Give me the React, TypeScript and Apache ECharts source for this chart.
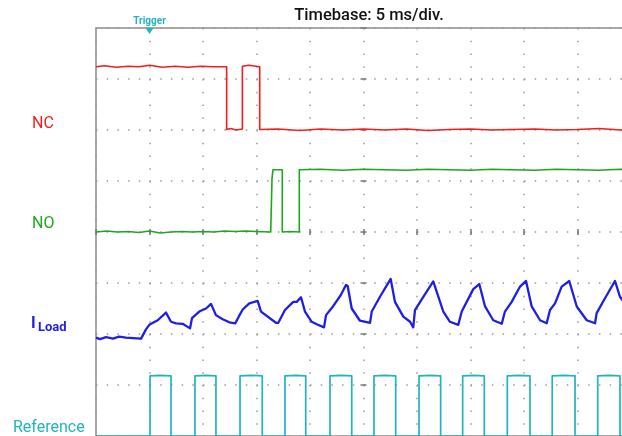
import React, { useEffect, useRef } from "react";
import * as echarts from "echarts";

const TITLE = "Timebase: 5 ms/div.";
const TRIGGER_LABEL = "Trigger";
const TRIGGER_MS = 0;
const TIME_MIN = -5;
const TIME_MAX = 45;
const TIME_STEP = 5;
const DIV_MIN = -4;
const DIV_MAX = 4;

const TRACE_NAMES = ["NC", "NO", "I", "Reference"];
const ILOAD_SUB = "Load";

// [time ms, level in divisions]
const NC_POINTS: [number, number][] = [
  [-5, 3.24], [-4.2, 3.26], [-3.1, 3.23], [-2, 3.25], [-1, 3.24], [0, 3.27], [1.2, 3.23],
  [2.4, 3.25], [3.6, 3.23], [4.8, 3.25], [6, 3.24], [7.21, 3.24],
  [7.21, 2.01], [7.6, 2.03], [8.1, 2.0], [8.68, 2.02],
  [8.68, 3.25], [9.3, 3.27], [10.3, 3.24],
  [10.3, 2.01], [12, 2.02], [14, 1.99], [16, 2.02], [18, 2.0], [20, 2.02], [22, 2.0],
  [24, 2.02], [26, 1.99], [28, 2.01], [30, 2.02], [32, 2.0], [34, 2.01], [36, 2.02],
  [38, 2.0], [40, 2.01], [42, 2.03], [44, 2.0], [45, 2.01],
];

const NO_POINTS: [number, number][] = [
  [-5, 0.0], [-4, 0.02], [-3, 0.0], [-2, 0.01], [-1, -0.01], [0, 0.02], [1, -0.02],
  [2, 0.0], [3, 0.01], [4, 0.0], [5, 0.01], [6, 0.0], [7, 0.02], [8, 0.01], [9, 0.02],
  [10, 0.01], [11.33, 0.0],
  [11.45, 1.05], [11.54, 1.22], [12.41, 1.22],
  [12.41, 0.0], [13.2, 0.01], [14.0, 0.0],
  [14.0, 1.22], [16, 1.23], [18, 1.21], [20, 1.23], [22, 1.22], [24, 1.21], [26, 1.23],
  [28, 1.22], [30, 1.21], [32, 1.23], [34, 1.22], [36, 1.21], [38, 1.23], [40, 1.22],
  [42, 1.21], [44, 1.23], [45, 1.22],
];

const ILOAD_POINTS: [number, number][] = [
  [-5.0, -2.07], [-4.63, -2.1], [-4.07, -2.06], [-3.41, -2.09], [-2.85, -2.05], [-2.2, -2.07],
  [-1.54, -2.08], [-0.79, -2.09], [-0.33, -1.91], [-0.02, -1.82], [0.77, -1.73], [1.54, -1.58],
  [2.01, -1.76], [2.48, -1.79], [3.1, -1.8], [3.79, -1.89], [3.97, -1.69], [4.65, -1.56],
  [5.28, -1.5], [5.75, -1.41], [6.21, -1.63], [6.84, -1.71], [7.46, -1.77], [8.02, -1.79],
  [8.34, -1.66], [8.71, -1.52], [9.33, -1.4], [10.11, -1.35], [10.42, -1.56], [11.82, -1.78],
  [12.04, -1.78], [12.66, -1.53], [13.44, -1.37], [13.76, -1.37], [14.16, -1.28], [14.53, -1.56],
  [15.16, -1.76], [15.63, -1.81], [16.31, -1.87], [16.5, -1.63], [17.18, -1.45], [17.87, -1.24],
  [18.36, -1.04], [18.52, -1.06], [18.9, -1.5], [19.67, -1.74], [20.61, -1.78], [20.77, -1.56],
  [21.54, -1.27], [22.54, -0.92], [22.94, -1.37], [23.72, -1.66], [24.35, -1.76], [24.65, -1.87],
  [24.81, -1.53], [25.59, -1.27], [26.52, -0.97], [27.46, -1.56], [28.08, -1.76], [28.86, -1.82],
  [29.18, -1.56], [30.26, -1.12], [30.82, -1.02], [31.36, -1.46], [32.13, -1.73], [32.92, -1.8],
  [33.22, -1.56], [33.85, -1.37], [34.63, -1.07], [35.19, -0.96], [35.72, -1.46], [36.5, -1.73],
  [37.12, -1.79], [37.43, -1.53], [37.9, -1.4], [38.52, -1.07], [39.23, -0.96], [39.93, -1.46],
  [40.86, -1.73], [41.64, -1.79], [41.79, -1.59], [42.57, -1.3], [43.5, -0.96], [43.97, -1.27],
  [45.0, -1.57],
];

const REF_HIGH = -2.82;
const REF_LOW = -4.0;
const REF_RISE = [0.05, 4.25, 8.46, 12.66, 16.87, 20.98, 25.19, 29.27, 33.44, 37.64, 41.89];
const REF_FALL = [2.01, 6.21, 10.54, 14.6, 18.9, 23.01, 27.21, 31.29, 35.56, 39.77, 43.97];

const RED = "#f21d1d";
const GREEN = "#1fa61f";
const BLUE = "#1f1fe0";
const CYAN = "#22b4bb";
const GRID_DOT = "#9a9a9a";
const FONT = "Roboto";

function buildRef(): [number, number][] {
  const pts: [number, number][] = [[TIME_MIN, REF_LOW]];
  REF_RISE.forEach((r, i) => {
    const f = REF_FALL[i];
    pts.push([r, REF_LOW], [r, REF_HIGH], [(r + f) / 2, REF_HIGH + 0.01], [f, REF_HIGH], [f, REF_LOW]);
  });
  pts.push([TIME_MAX, REF_LOW]);
  return pts;
}

export default function App() {
  const ref = useRef<HTMLDivElement>(null);
  useEffect(() => {
    const chart = echarts.init(ref.current!, null, { renderer: "svg" });
    const xBase = {
      type: "value",
      min: TIME_MIN,
      max: TIME_MAX,
      interval: TIME_STEP,
      axisLabel: { show: false },
    };
    const yBase = {
      type: "value",
      min: DIV_MIN,
      max: DIV_MAX,
      interval: 1,
      axisLabel: { show: false },
    };
    const tickStyle = { color: "#777", width: 1.5 };
    const lineSeries = (name: string, data: [number, number][], color: string, width: number, extra = {}) => ({
      name,
      type: "line",
      data,
      symbol: "none",
      showSymbol: false,
      lineStyle: { color, width, join: "round" },
      itemStyle: { color },
      silent: true,
      clip: false,
      ...extra,
    });
    chart.setOption({
      animation: false,
      grid: {
        left: 96,
        top: 28,
        right: 0,
        bottom: 0,
        show: true,
        borderColor: "#8c8c8c",
        borderWidth: 1.5,
      },
      xAxis: [
        {
          ...xBase,
          position: "bottom",
          axisLine: { show: false, onZero: true, onZeroAxisIndex: 0 },
          axisTick: { show: true, length: 3, lineStyle: tickStyle },
          splitLine: { show: true, lineStyle: { color: GRID_DOT, width: 1.5, type: [1.5, 11.25] } },
        },
        {
          ...xBase,
          position: "top",
          axisLine: { show: false, onZero: true, onZeroAxisIndex: 0 },
          axisTick: { show: true, length: 3, lineStyle: tickStyle },
          splitLine: { show: false },
        },
      ],
      yAxis: [
        {
          ...yBase,
          position: "left",
          offset: -267.5,
          axisLine: { show: false, onZero: false },
          axisTick: { show: true, length: 3, lineStyle: tickStyle },
          splitLine: { show: true, lineStyle: { color: GRID_DOT, width: 1.5, type: [1.5, 9.2] } },
        },
        {
          ...yBase,
          position: "right",
          offset: -267.5,
          axisLine: { show: false, onZero: false },
          axisTick: { show: true, length: 3, lineStyle: tickStyle },
          splitLine: { show: false },
        },
      ],
      series: [
        lineSeries("NC", NC_POINTS, RED, 1.6),
        lineSeries("NO", NO_POINTS, GREEN, 1.6),
        lineSeries("ILoad", ILOAD_POINTS, BLUE, 2.3),
        lineSeries("Reference", buildRef(), CYAN, 1.7, {
          markPoint: {
            silent: true,
            data: [
              {
                coord: [TRIGGER_MS, DIV_MAX],
                symbol: "triangle",
                symbolRotate: 180,
                symbolSize: [8, 6],
                symbolOffset: [0, 3],
                itemStyle: { color: CYAN },
                label: {
                  show: true,
                  position: "top",
                  distance: 3,
                  formatter: TRIGGER_LABEL,
                  color: CYAN,
                  fontSize: 10,
                  fontWeight: "bold",
                  fontFamily: FONT,
                },
              },
            ],
          },
        }),
      ],
      graphic: [
        {
          type: "text",
          x: 369,
          y: 14,
          style: { text: TITLE, fill: "#111", font: `500 16.5px ${FONT}`, align: "center", verticalAlign: "middle" },
        },
        {
          type: "text",
          x: 32,
          y: 122,
          style: { text: TRACE_NAMES[0], fill: RED, font: `16px ${FONT}`, verticalAlign: "middle" },
        },
        {
          type: "text",
          x: 32,
          y: 222,
          style: { text: TRACE_NAMES[1], fill: GREEN, font: `16px ${FONT}`, verticalAlign: "middle" },
        },
        {
          type: "text",
          x: 31,
          y: 322,
          style: { text: TRACE_NAMES[2], fill: BLUE, font: `bold 16px ${FONT}`, verticalAlign: "middle" },
        },
        {
          type: "text",
          x: 38,
          y: 326.5,
          style: { text: ILOAD_SUB, fill: BLUE, font: `bold 13px ${FONT}`, verticalAlign: "middle" },
        },
        {
          type: "text",
          x: 13,
          y: 426,
          style: { text: TRACE_NAMES[3], fill: CYAN, font: `16px ${FONT}`, verticalAlign: "middle" },
        },
      ],
    });
    return () => chart.dispose();
  }, []);
  return <div ref={ref} style={{ position: "fixed", left: 0, top: 0, width: 631, height: 436 }} />;
}
